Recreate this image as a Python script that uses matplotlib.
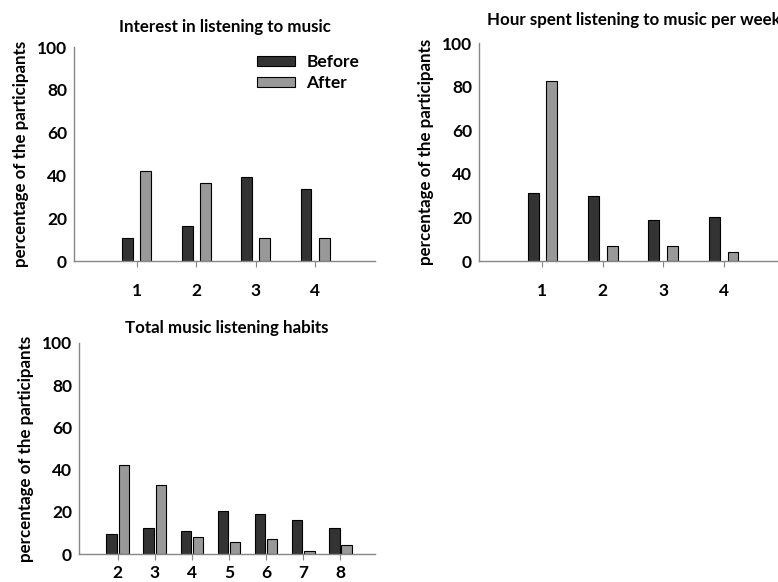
"""Music listening questionnaire: before vs. after, three bar panels."""

import matplotlib.pyplot as plt
import numpy as np

plt.rcParams["font.family"] = ["Lato", "DejaVu Sans"]
plt.rcParams["font.weight"] = "bold"

COLOR_BEFORE = "#333333"
COLOR_AFTER = "#999999"
COLOR_AXIS = "#868686"

YLABEL = "percentage of the participants"
TITLE_SIZE = 12.2
LABEL_SIZE = 12.2
TICK_SIZE = 12.5

# Interest in listening to music
interest_cats = [1, 2, 3, 4]
interest_before = [10.7, 16.4, 39.3, 33.8]
interest_after = [41.9, 36.4, 10.7, 10.7]

# Hours per week
hours_cats = [1, 2, 3, 4]
hours_before = [31.1, 29.7, 19.0, 20.4]
hours_after = [82.7, 6.7, 6.7, 4.0]

# Total habits score
total_cats = [2, 3, 4, 5, 6, 7, 8]
total_before = [9.6, 12.3, 11.0, 20.5, 19.1, 16.4, 12.3]
total_after = [42.2, 32.6, 8.3, 5.7, 7.1, 1.7, 4.4]


def _bars(ax, cats, before, after, width, offset, xlim, xpad=12):
    x = np.asarray(cats, dtype=float)
    ax.bar(x - offset, before, width, color=COLOR_BEFORE,
           edgecolor="black", linewidth=0.8, label="Before")
    ax.bar(x + offset, after, width, color=COLOR_AFTER,
           edgecolor="black", linewidth=0.8, label="After")
    ax.set_xlim(*xlim)
    ax.set_ylim(0, 100)
    ax.set_xticks(cats)
    ax.set_yticks(range(0, 101, 20))
    for side in ("top", "right"):
        ax.spines[side].set_visible(False)
    for side in ("left", "bottom"):
        ax.spines[side].set_color(COLOR_AXIS)
        ax.spines[side].set_linewidth(1.0)
    ax.tick_params(axis="x", length=4, color=COLOR_AXIS, pad=xpad,
                   labelsize=TICK_SIZE)
    ax.tick_params(axis="y", length=0, pad=5, labelsize=TICK_SIZE)
    ax.set_ylabel(YLABEL, fontsize=LABEL_SIZE, fontweight="bold",
                  labelpad=6)


def main() -> None:
    fig = plt.figure(figsize=(7.78, 5.82), dpi=100)

    ax1 = fig.add_axes([0.0951, 0.5515, 0.3869, 0.3677])
    _bars(ax1, interest_cats, interest_before, interest_after,
          0.185, 0.152, (-0.06, 5.01))
    ax1.set_title("Interest in listening to music", fontsize=TITLE_SIZE,
                  fontweight="bold", pad=11)
    ax1.legend(loc="upper right", bbox_to_anchor=(1.0, 1.04),
               frameon=False, fontsize=TICK_SIZE, handlelength=2.2,
               handleheight=0.55, labelspacing=0.3, handletextpad=0.65)

    ax2 = fig.add_axes([0.6157, 0.5515, 0.3920, 0.3741])
    _bars(ax2, hours_cats, hours_before, hours_after,
          0.18, 0.155, (-0.05, 5.0))
    fig.text(487 / 778, 1 - 25 / 582,
             "Hour spent listening to music per week",
             fontsize=TITLE_SIZE, fontweight="bold", ha="left",
             va="baseline")

    ax3 = fig.add_axes([0.1015, 0.0476, 0.3805, 0.3636])
    _bars(ax3, total_cats, total_before, total_after,
          0.28, 0.165, (0.96, 8.93), xpad=4)
    ax3.set_title("Total music listening habits", fontsize=TITLE_SIZE,
                  fontweight="bold", pad=7)

    fig.savefig("out.png", dpi=100)


if __name__ == "__main__":
    main()
